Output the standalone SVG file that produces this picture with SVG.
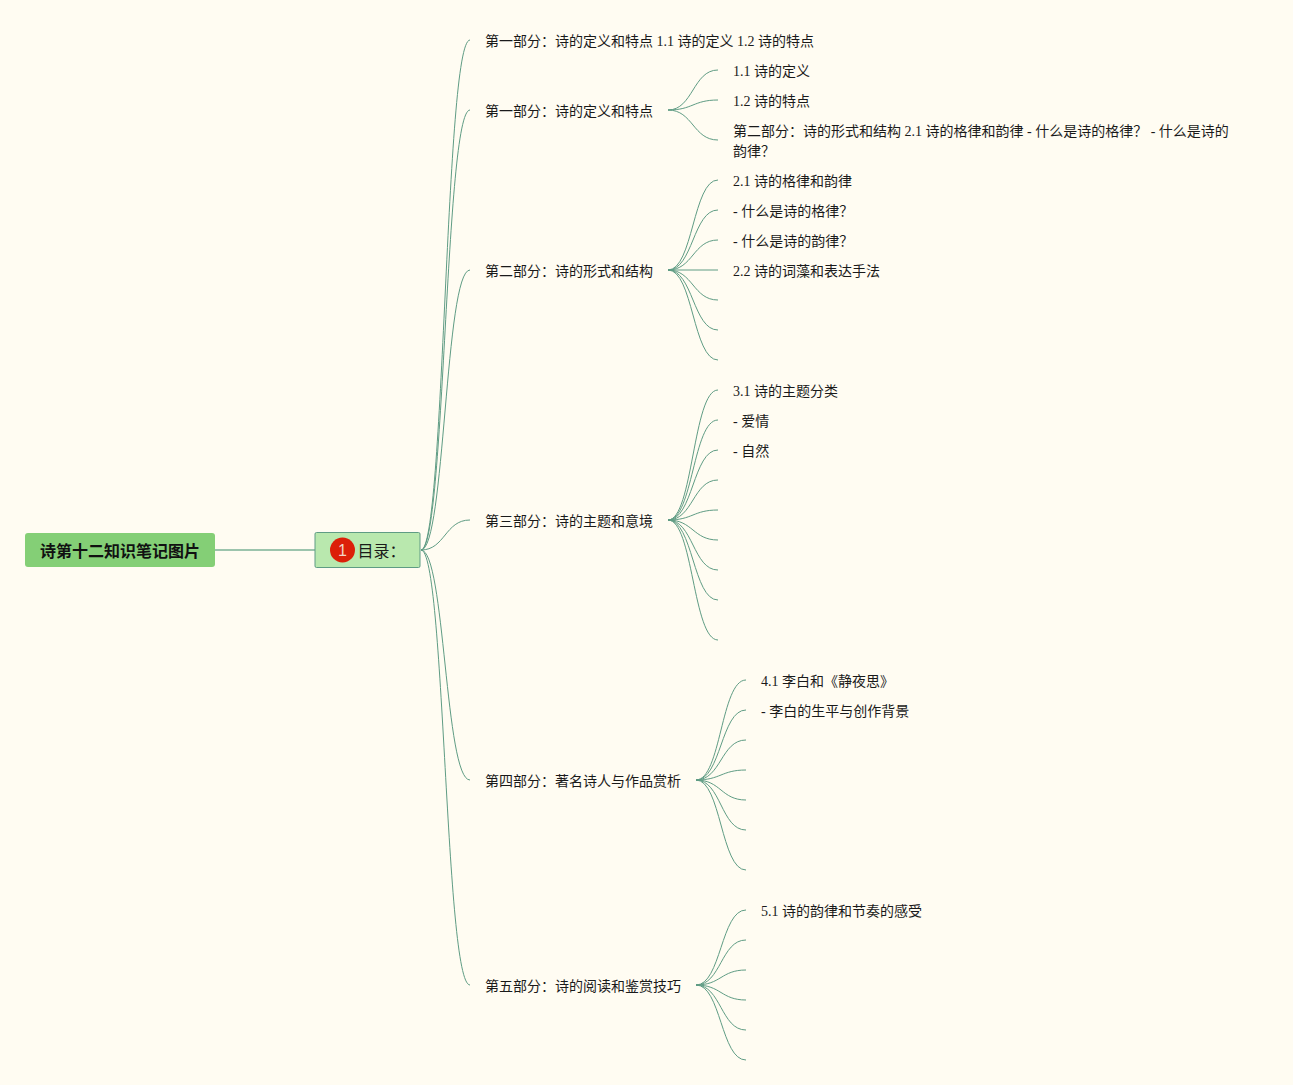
<svg xmlns="http://www.w3.org/2000/svg" width="1293" height="1085" viewBox="0 0 1293 1085">
<style>
text{font-family:"Liberation Serif","Noto Sans CJK SC",serif;font-size:14px;fill:#1a1a1a}
.c{fill:none;stroke:#5f9c84;stroke-width:1}
</style>
<rect width="1293" height="1085" fill="#fffcf2"/>
<g id="connectors">
<path d="M215 550H315" fill="none" stroke="#9cc4ad" stroke-width="2"/>
<path class="c" d="M421 550C445 550 445 40 470 40"/>
<path class="c" d="M421 550C445 550 445 110 470 110"/>
<path class="c" d="M421 550C445 550 445 270 470 270"/>
<path class="c" d="M421 550C445 550 445 520 470 520"/>
<path class="c" d="M421 550C445 550 445 780 470 780"/>
<path class="c" d="M421 550C445 550 445 985 470 985"/>
<path class="c" d="M668 110C693 110 693 70 718 70"/>
<path class="c" d="M668 110C693 110 693 100 718 100"/>
<path class="c" d="M668 110C693 110 693 140 718 140"/>
<path class="c" d="M668 270C693 270 693 180 718 180"/>
<path class="c" d="M668 270C693 270 693 210 718 210"/>
<path class="c" d="M668 270C693 270 693 240 718 240"/>
<path class="c" d="M668 270H718"/>
<path class="c" d="M668 270C693 270 693 300 718 300"/>
<path class="c" d="M668 270C693 270 693 330 718 330"/>
<path class="c" d="M668 270C693 270 693 360 718 360"/>
<path class="c" d="M668 520C693 520 693 390 718 390"/>
<path class="c" d="M668 520C693 520 693 420 718 420"/>
<path class="c" d="M668 520C693 520 693 450 718 450"/>
<path class="c" d="M668 520C693 520 693 480 718 480"/>
<path class="c" d="M668 520C693 520 693 510 718 510"/>
<path class="c" d="M668 520C693 520 693 540 718 540"/>
<path class="c" d="M668 520C693 520 693 570 718 570"/>
<path class="c" d="M668 520C693 520 693 600 718 600"/>
<path class="c" d="M668 520C693 520 693 640 718 640"/>
<path class="c" d="M696 780C721 780 721 680 746 680"/>
<path class="c" d="M696 780C721 780 721 710 746 710"/>
<path class="c" d="M696 780C721 780 721 740 746 740"/>
<path class="c" d="M696 780C721 780 721 770 746 770"/>
<path class="c" d="M696 780C721 780 721 800 746 800"/>
<path class="c" d="M696 780C721 780 721 830 746 830"/>
<path class="c" d="M696 780C721 780 721 870 746 870"/>
<path class="c" d="M696 985C721 985 721 910 746 910"/>
<path class="c" d="M696 985C721 985 721 940 746 940"/>
<path class="c" d="M696 985C721 985 721 970 746 970"/>
<path class="c" d="M696 985C721 985 721 1000 746 1000"/>
<path class="c" d="M696 985C721 985 721 1030 746 1030"/>
<path class="c" d="M696 985C721 985 721 1060 746 1060"/>
</g>
<g id="root"><rect x="25" y="533" width="190" height="34" rx="3" fill="#84cf76"/><text x="120" y="557" text-anchor="middle" style="font-size:16px;font-weight:700;fill:#111">诗第十二知识笔记图片</text></g>
<g id="toc"><rect x="315" y="532.500" width="105" height="35" rx="1.500" fill="#b9e8ae" stroke="#5f9c84"/><circle cx="342.500" cy="550" r="12.500" fill="#dc1f08"/><text x="342.500" y="555.500" text-anchor="middle" style="font-family:'Liberation Sans',sans-serif;font-size:16px;fill:#f3d3c6">1</text><text x="357.500" y="557" style="font-size:16px">目录：</text></g>
<g id="n1"><text x="485" y="46">第一部分：诗的定义和特点 1.1 诗的定义 1.2 诗的特点</text></g>
<g id="n2"><text x="485" y="116">第一部分：诗的定义和特点</text></g>
<g id="n3"><text x="485" y="276">第二部分：诗的形式和结构</text></g>
<g id="n4"><text x="485" y="526">第三部分：诗的主题和意境</text></g>
<g id="n5"><text x="485" y="786">第四部分：著名诗人与作品赏析</text></g>
<g id="n6"><text x="485" y="991">第五部分：诗的阅读和鉴赏技巧</text></g>
<g id="n7"><text x="733" y="76">1.1 诗的定义</text></g>
<g id="n8"><text x="733" y="106">1.2 诗的特点</text></g>
<g id="n9"><text x="733" y="136">第二部分：诗的形式和结构 2.1 诗的格律和韵律 - 什么是诗的格律？ - 什么是诗的</text><text x="733" y="156">韵律？</text></g>
<g id="n10"><text x="733" y="186">2.1 诗的格律和韵律</text></g>
<g id="n11"><text x="733" y="216">- 什么是诗的格律？</text></g>
<g id="n12"><text x="733" y="246">- 什么是诗的韵律？</text></g>
<g id="n13"><text x="733" y="276">2.2 诗的词藻和表达手法</text></g>
<g id="n14"><text x="733" y="396">3.1 诗的主题分类</text></g>
<g id="n15"><text x="733" y="426">- 爱情</text></g>
<g id="n16"><text x="733" y="456">- 自然</text></g>
<g id="n17"><text x="761" y="686">4.1 李白和《静夜思》</text></g>
<g id="n18"><text x="761" y="716">- 李白的生平与创作背景</text></g>
<g id="n19"><text x="761" y="916">5.1 诗的韵律和节奏的感受</text></g>
</svg>
